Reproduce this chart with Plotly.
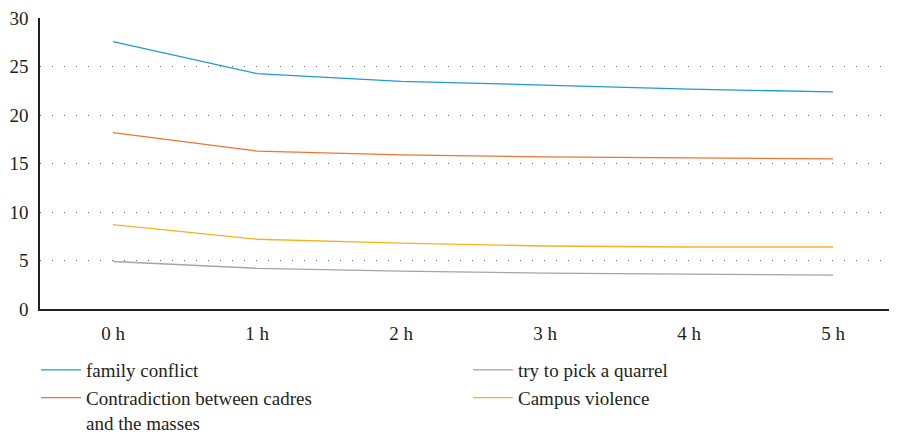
import plotly.graph_objects as go

categories = ["0 h", "1 h", "2 h", "3 h", "4 h", "5 h"]
family_conflict = [27.6, 24.3, 23.5, 23.1, 22.7, 22.4]
pick_quarrel = [4.9, 4.2, 3.9, 3.7, 3.6, 3.5]
cadres_masses = [18.2, 16.3, 15.9, 15.7, 15.6, 15.5]
campus_violence = [8.7, 7.2, 6.8, 6.5, 6.4, 6.4]
y_ticks = [0, 5, 10, 15, 20, 25, 30]

series = [
    ("family conflict", family_conflict, "#1f9ad6", "legend"),
    ("Contradiction between cadres<br>and the masses", cadres_masses, "#ee7530", "legend"),
    ("try to pick a quarrel", pick_quarrel, "#a5a5a5", "legend2"),
    ("Campus violence", campus_violence, "#f7b21b", "legend2"),
]

fig = go.Figure()
for name, vals, color, lg in series:
    fig.add_trace(go.Scatter(x=categories, y=vals, mode="lines", name=name,
                             legend=lg, line=dict(color=color, width=1.3)))

font = "Liberation Serif, Times New Roman, serif"
leg_common = dict(orientation="v", yanchor="top", xanchor="left",
                  xref="container", yref="container", valign="top",
                  font=dict(family=font, size=19, color="#231f20"),
                  itemwidth=40, tracegroupgap=0, traceorder="normal",
                  bgcolor="rgba(0,0,0,0)")
fig.update_layout(
    width=889, height=426,
    margin=dict(l=32, r=0, t=10, b=125, autoexpand=False),
    plot_bgcolor="white", paper_bgcolor="white",
    font=dict(family=font, size=19, color="#231f20"),
    showlegend=True,
    legend=dict(x=28 / 889, y=1 - 343 / 426, **leg_common),
    legend2=dict(x=460 / 889, y=1 - 343 / 426, **leg_common),
    xaxis=dict(type="category", range=[-0.507, 5.444], showgrid=False,
               showline=True, linecolor="#231f20", linewidth=1.5,
               ticks="", ticklabelstandoff=6),
    yaxis=dict(range=[0, 30.03], tickvals=y_ticks, showgrid=True,
               gridcolor="#666666", griddash="1px,11px", gridwidth=1.2,
               showline=True, linecolor="#231f20", linewidth=1.5,
               ticks="", zeroline=False, ticklabelstandoff=6,
               ticklabeloverflow="allow"),
)

fig.write_html("out.html")
